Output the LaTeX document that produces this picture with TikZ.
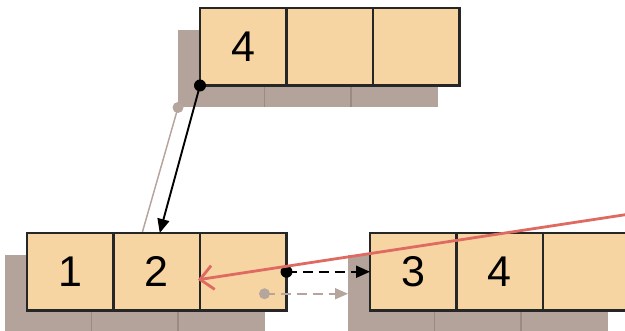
\documentclass[tikz,border=0pt]{standalone}
\usepackage{fontspec}
\setmainfont{Liberation Sans}
\usetikzlibrary{arrows.meta}
\definecolor{cellfill}{HTML}{F7D5A2}
\definecolor{shade}{HTML}{B3A39B}
\definecolor{shadeline}{HTML}{9A8A82}
\definecolor{faded}{HTML}{B5A59D}
\definecolor{pointer}{HTML}{DE6A62}
\begin{document}
\begin{tikzpicture}[x=1pt,y=-1pt,
  cell/.style={draw=black!85,line width=2.2pt,fill=cellfill,
    minimum width=86.5pt,minimum height=77.5pt,inner sep=0pt,outer sep=0pt,
    anchor=north west,font=\fontsize{43}{43}\selectfont},
  shadowcell/.style={fill=shade,draw=none,
    minimum width=86.5pt,minimum height=77.5pt,inner sep=0pt,outer sep=0pt,
    anchor=north west},
  divider/.style={draw=shadeline,line width=1.6pt},
  link/.style={line width=1.9pt,-{Triangle[length=14pt,width=12pt]}},
  fadedlink/.style={faded,line width=1.7pt,-{Triangle[length=13pt,width=11pt]}},
  dashlink/.style={dash pattern=on 10pt off 6pt}]
\clip (0,0) rectangle (625,331);
\useasboundingbox (0,0) rectangle (625,331);

% shadows of the three arrays
\node[shadowcell] (ts1) at (178,30) {};
\node[shadowcell] (ts2) at (ts1.north east) {};
\node[shadowcell] (ts3) at (ts2.north east) {};
\node[shadowcell] (bs1) at (5,255) {};
\node[shadowcell] (bs2) at (bs1.north east) {};
\node[shadowcell] (bs3) at (bs2.north east) {};
\node[shadowcell] (rs1) at (348,255) {};
\node[shadowcell] (rs2) at (rs1.north east) {};
\node[shadowcell] (rs3) at (rs2.north east) {};
\foreach \s in {ts1,ts2,bs1,bs2,rs1,rs2}
  \draw[divider] (\s.north east) -- (\s.south east);

% faded trace of the first pointer
\fill[faded] (ts1.south west) circle (5.5pt);
\draw[faded,line width=1.5pt] (ts1.south west) -- ++(-42,147);

% top array
\node[cell] (t1) at (200,8) {4};
\node[cell] (t2) at (t1.north east) {};
\node[cell] (t3) at (t2.north east) {};

% lower left array
\node[cell] (b1) at (27,233) {1};
\node[cell] (b2) at (b1.north east) {2};
\node[cell] (b3) at (b2.north east) {};

% lower right array
\node[cell] (r1) at (370,233) {3};
\node[cell] (r2) at (r1.north east) {4};
\node[cell] (r3) at (r2.north east) {};

% pointer from the top array into the second cell
\fill (t1.south west) circle (6pt);
\draw[link] (t1.south west) -- ([xshift=3pt]b2.north);

% faded trace of the next link
\fill[faded] (bs3.east) circle (5.5pt);
\draw[fadedlink,dashlink] (bs3.east) -- (rs1.west);

% next link
\fill (b3.east) circle (6pt);
\draw[link,dashlink] (b3.east) -- (r1.west);

% incoming pointer
\coordinate (src) at (630,214);
\draw[pointer,line width=2.8pt,-{Straight Barb[length=13pt,width=24pt]}]
  (src) -- ([shift={(-2pt,-8pt)}]b2.east);
\end{tikzpicture}
\end{document}
